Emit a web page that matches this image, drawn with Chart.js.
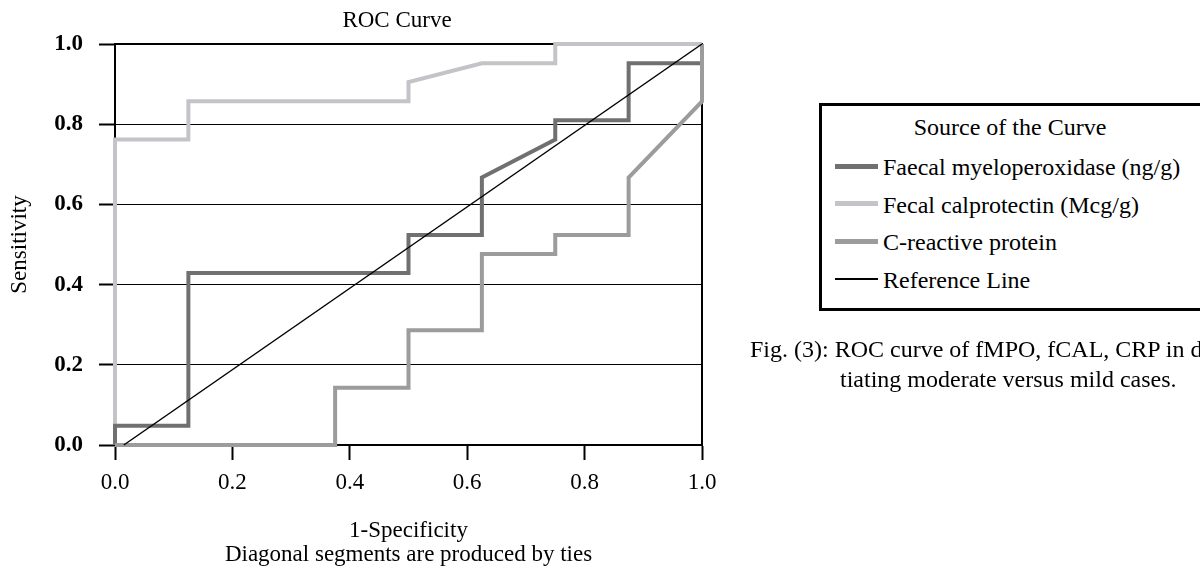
<!DOCTYPE html>
<html>
<head>
<meta charset="utf-8">
<script src="https://cdn.jsdelivr.net/npm/chart.js@4.4.1/dist/chart.umd.min.js"></script>
<style>
    body { margin: 0; width: 1200px; height: 576px; overflow: hidden; background: #fff;
           font-family: "Liberation Serif", "Times New Roman", serif; color: #000; }
    #wrap { position: absolute; left: 0; top: 0; width: 794px; height: 576px; }
    #title { position: absolute; left: 0; top: 6px; width: 794px; text-align: center; font-size: 23px; line-height: 28px; }
    #legend { position: absolute; left: 819px; top: 103px; width: 400px; height: 202px;
              border: 3px solid #000; }
    #legend .head { position: absolute; left: 0; width: 376px; top: 8px; text-align: center; font-size: 24px; }
    .item { position: absolute; left: 13px; font-size: 24px; white-space: nowrap; line-height: 28px; }
    .item span.swatch { position: absolute; left: 0; top: 13px; width: 43px; }
    .item span.label { position: absolute; left: 48px; top: 0; }
    .cap { position: absolute; font-size: 24px; white-space: nowrap; }
</style>
</head>
<body>
<div id="wrap"><canvas id="rocChart"></canvas></div>
<div id="title">ROC Curve</div>
<div id="legend"><div class="head">Source of the Curve</div></div>
<div class="cap" style="left:750px; top:336px;">Fig. (3): ROC curve of fMPO, fCAL, CRP in differen-</div>
<div class="cap" style="left:840px; top:366px;">tiating moderate versus mild cases.</div>

<script>
const seriesNames = ["Faecal myeloperoxidase (ng/g)", "Fecal calprotectin (Mcg/g)", "C-reactive protein", "Reference Line"];
const seriesColors = ["#707070", "#c4c4c8", "#9c9c9c", "#000000"];

// 1-specificity / sensitivity points
const fmpoX = [0, 0, 0.125, 0.125, 0.5, 0.5, 0.625, 0.625, 0.75, 0.75, 0.875, 0.875, 1, 1];
const fmpoY = [0, 0.048, 0.048, 0.429, 0.429, 0.524, 0.524, 0.667, 0.762, 0.810, 0.810, 0.952, 0.952, 1];

const fcalX = [0, 0, 0.125, 0.125, 0.5, 0.5, 0.625, 0.75, 0.75, 1];
const fcalY = [0, 0.762, 0.762, 0.857, 0.857, 0.905, 0.952, 0.952, 1, 1];

const crpX = [0, 0.375, 0.375, 0.5, 0.5, 0.625, 0.625, 0.75, 0.75, 0.875, 0.875, 1, 1];
const crpY = [0, 0, 0.143, 0.143, 0.286, 0.286, 0.476, 0.476, 0.524, 0.524, 0.667, 0.857, 1];

const refX = [0.015, 1];
const refY = [0, 1];

const axisTicks = [0, 0.2, 0.4, 0.6, 0.8, 1.0];

const serif = "'Liberation Serif', 'Times New Roman', serif";

function toPoints(xs, ys) {
    return xs.map((x, i) => ({ x: x, y: ys[i] }));
}

// legend box
const legend = document.getElementById("legend");
seriesNames.forEach((name, i) => {
    const row = document.createElement("div");
    row.className = "item";
    row.style.top = (47 + i * 37.5) + "px";
    const h = i === 3 ? 2 : 5;
    row.innerHTML = `<span class="swatch" style="height:${h}px; margin-top:${-h / 2}px; background:${seriesColors[i]}"></span>` +
                    `<span class="label">${name}</span>`;
    legend.appendChild(row);
});

const framePlugin = {
    id: "frame",
    beforeDatasetsDraw(chart) {
        const { ctx, chartArea } = chart;
        ctx.save();
        ctx.strokeStyle = "#000";
        ctx.lineWidth = 2;
        ctx.strokeRect(chartArea.left, chartArea.top, chartArea.right - chartArea.left, chartArea.bottom - chartArea.top);
        ctx.restore();
    }
};

function lineSet(i, xs, ys, width, order) {
    return {
        label: seriesNames[i],
        data: toPoints(xs, ys),
        showLine: true,
        borderColor: seriesColors[i],
        backgroundColor: seriesColors[i],
        borderWidth: width,
        borderJoinStyle: "miter",
        borderCapStyle: "butt",
        pointRadius: 0,
        tension: 0,
        clip: false,
        order: order
    };
}

const ctx = document.getElementById("rocChart").getContext("2d");
new Chart(ctx, {
    type: "scatter",
    data: {
        datasets: [
            lineSet(3, refX, refY, 1.5, 0),
            lineSet(2, crpX, crpY, 4, 1),
            lineSet(0, fmpoX, fmpoY, 4, 2),
            lineSet(1, fcalX, fcalY, 4, 3)
        ]
    },
    options: {
        responsive: true,
        maintainAspectRatio: false,
        animation: false,
        layout: { padding: { left: 0, right: 92, top: 44, bottom: 0 } },
        plugins: {
            legend: { display: false },
            tooltip: { enabled: false },
            title: { display: false }
        },
        scales: {
            x: {
                type: "linear",
                min: 0,
                max: 1,
                afterBuildTicks: scale => { scale.ticks = axisTicks.map(v => ({ value: v })); },
                afterFit: scale => { scale.height = 131; },
                ticks: {
                    color: "#000",
                    padding: 9,
                    font: { family: serif, size: 23 },
                    callback: v => v.toFixed(1)
                },
                grid: { drawOnChartArea: false, drawTicks: true, tickLength: 15, tickColor: "#000", tickWidth: 2 },
                border: { display: true, color: "#000", width: 2 },
                title: {
                    display: true,
                    text: ["1-Specificity", "Diagonal segments are produced by ties"],
                    color: "#000",
                    font: { family: serif, size: 23, lineHeight: 1.05 },
                    padding: { top: 0, bottom: 9 }
                }
            },
            y: {
                type: "linear",
                min: 0,
                max: 1,
                afterBuildTicks: scale => { scale.ticks = axisTicks.map(v => ({ value: v })); },
                afterFit: scale => { scale.width = 115; },
                ticks: {
                    color: "#000",
                    padding: 16,
                    font: { family: serif, size: 23, weight: "bold" },
                    callback: v => v.toFixed(1)
                },
                grid: { color: "#000", lineWidth: 1, drawTicks: true, tickLength: 16, tickColor: "#000", tickWidth: 2 },
                border: { display: true, color: "#000", width: 2 },
                title: {
                    display: true,
                    text: "Sensitivity",
                    color: "#000",
                    font: { family: serif, size: 23, lineHeight: 1.2 },
                    padding: { top: 6, bottom: 0 }
                }
            }
        }
    },
    plugins: [framePlugin]
});
</script>
</body>
</html>
